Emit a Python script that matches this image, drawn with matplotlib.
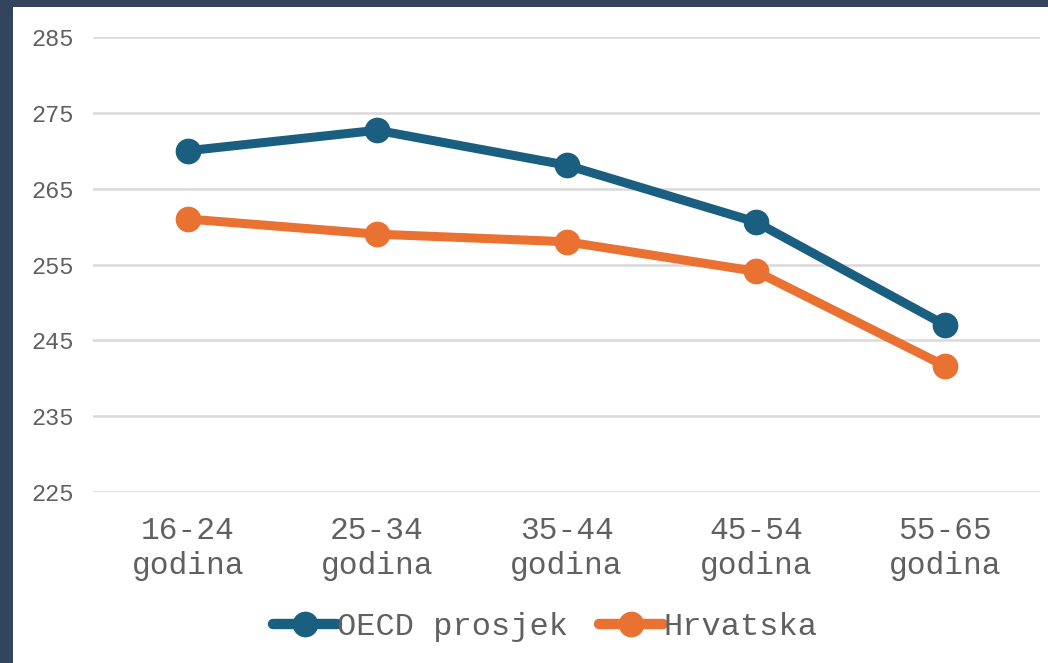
import matplotlib.pyplot as plt
from matplotlib.patches import Rectangle

categories = ["16-24\ngodina", "25-34\ngodina", "35-44\ngodina", "45-54\ngodina", "55-65\ngodina"]
oecd = [270.0, 272.7, 268.1, 260.6, 247.0]
hrvatska = [261.0, 259.0, 258.0, 254.1, 241.6]
yticks = [225, 235, 245, 255, 265, 275, 285]

BLUE = "#1a5e80"
ORANGE = "#e97132"
GREY = "#606060"
FONT = ["Liberation Mono", "DejaVu Sans Mono"]

fig = plt.figure(figsize=(10.48, 6.63), dpi=100, facecolor="#33455c")
# white card behind everything
fig.patches.append(Rectangle((13 / 1048, 0), 1, 1 - 7 / 663, transform=fig.transFigure,
                             facecolor="white", edgecolor="none", zorder=-5))

ax = fig.add_axes([93 / 1048, 1 - 492 / 663, (1040 - 93) / 1048, (492 - 37) / 663])
ax.set_facecolor("none")

x = range(len(categories))
ax.plot(x, oecd, color=BLUE, lw=6.5, marker="o", ms=17.5, label="OECD prosjek",
        solid_capstyle="round", zorder=3)
ax.plot(x, hrvatska, color=ORANGE, lw=6.5, marker="o", ms=17.5, label="Hrvatska",
        solid_capstyle="round", zorder=3)

ax.set_xlim(-0.5, len(categories) - 0.5)
ax.set_ylim(225, 285)
ax.set_yticks(yticks)
ax.set_xticks(list(x))
ax.set_xticklabels(categories, fontsize=22.5, family=FONT, color=GREY, linespacing=1.25)
ax.set_yticklabels([str(v) for v in yticks], fontsize=17, family=FONT, color=GREY)
ax.tick_params(axis="y", length=0, pad=14)
ax.tick_params(axis="x", length=0, pad=17)
ax.grid(axis="y", color="#d9d9d9", lw=1.8)
ax.set_axisbelow(True)
for s in ax.spines.values():
    s.set_visible(False)

leg = fig.legend(loc="center", bbox_to_anchor=(545 / 1048, 1 - 627 / 663), ncol=2,
                 frameon=False, prop={"family": FONT, "size": 23}, handlelength=2.0,
                 handletextpad=0.0, columnspacing=1.0)
for t in leg.get_texts():
    t.set_color(GREY)
for h in leg.legend_handles:
    h.set_linewidth(7.5)

fig.savefig("out.png", dpi=100, facecolor=fig.get_facecolor())
